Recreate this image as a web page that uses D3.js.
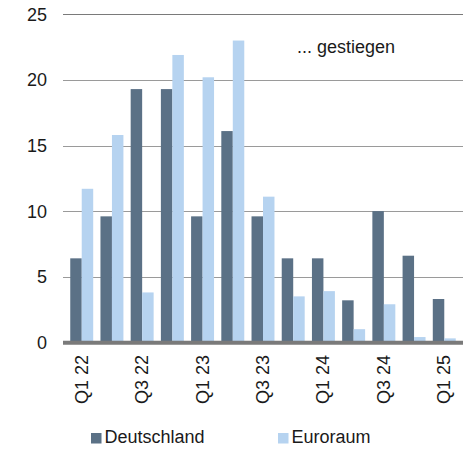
<!DOCTYPE html>
<html>
<head>
<meta charset="utf-8">
<script src="https://cdn.jsdelivr.net/npm/d3@7"></script>
<style>
  body { margin: 0; background: #fff; }
  text { font-family: "Liberation Sans", Arial, sans-serif; fill: #1a1a1a; }
</style>
</head>
<body>
<div id="chart"></div>
<script>
// quarters, two series (in %)
const quarters = ["Q1 22", "Q2 22", "Q3 22", "Q4 22", "Q1 23", "Q2 23", "Q3 23",
                  "Q4 23", "Q1 24", "Q2 24", "Q3 24", "Q4 24", "Q1 25"];
const deutschland = [6.4, 9.6, 19.3, 19.3, 9.6, 16.1, 9.6, 6.4, 6.4, 3.2, 10.0, 6.6, 3.3];
const euroraum = [11.7, 15.8, 3.8, 21.9, 20.2, 23.0, 11.1, 3.5, 3.9, 1.0, 2.9, 0.4, 0.3];
const seriesNames = ["Deutschland", "Euroraum"];
const yTicks = [0, 5, 10, 15, 20, 25];

const width = 473, height = 449;
const plotLeft = 63, plotRight = 463, plotTop = 14.3, plotBottom = 342.3;
const colors = ["#5b7186", "#b6d3f0"];

const svg = d3.select("#chart").append("svg")
    .attr("width", width)
    .attr("height", height);

const x = d3.scaleBand()
    .domain(quarters)
    .range([plotLeft, plotRight])
    .padding(0.24);

const xInner = d3.scaleBand()
    .domain(seriesNames)
    .range([0, x.bandwidth()]);

const y = d3.scaleLinear()
    .domain([0, 25])
    .range([plotBottom, plotTop]);

// gridlines
svg.append("g")
    .selectAll("line")
    .data(yTicks.filter(d => d > 0))
    .enter()
    .append("line")
    .attr("x1", plotLeft)
    .attr("x2", plotRight)
    .attr("y1", d => Math.round(y(d)) + 0.5)
    .attr("y2", d => Math.round(y(d)) + 0.5)
    .attr("stroke", d => d === 25 ? "#7a7a7a" : "#9a9a9a")
    .attr("stroke-width", 1);

// y tick labels
svg.append("g")
    .selectAll("text")
    .data(yTicks)
    .enter()
    .append("text")
    .attr("x", 47)
    .attr("y", d => y(d))
    .attr("dy", "0.36em")
    .attr("text-anchor", "end")
    .style("font-size", "18px")
    .text(d => d);

// bars
const rows = quarters.map((q, i) => ({ q, values: [deutschland[i], euroraum[i]] }));

const groups = svg.append("g")
    .selectAll("g")
    .data(rows)
    .enter()
    .append("g")
    .attr("transform", d => `translate(${x(d.q)},0)`);

groups.selectAll("rect")
    .data(d => d.values.map((v, k) => ({ name: seriesNames[k], v, k })))
    .enter()
    .append("rect")
    .attr("x", d => xInner(d.name))
    .attr("width", xInner.bandwidth())
    .attr("y", d => y(d.v))
    .attr("height", d => y(0) - y(d.v))
    .attr("fill", d => colors[d.k]);

// thick baseline
svg.append("line")
    .attr("x1", plotLeft)
    .attr("x2", plotRight)
    .attr("y1", plotBottom + 0.5)
    .attr("y2", plotBottom + 0.5)
    .attr("stroke", "#7a7a7a")
    .attr("stroke-width", 4);

// x labels, every other quarter, rotated
svg.append("g")
    .selectAll("text")
    .data(quarters.filter((q, i) => i % 2 === 0))
    .enter()
    .append("text")
    .attr("transform", d => `translate(${x(d) + x.bandwidth() / 2 + 6},355) rotate(-90)`)
    .attr("text-anchor", "end")
    .style("font-size", "18px")
    .text(d => d);

// annotation
svg.append("text")
    .attr("x", 297)
    .attr("y", 53)
    .style("font-size", "18px")
    .text("... gestiegen");

// legend
const legendX = [91, 278];
const legend = svg.append("g")
    .selectAll("g")
    .data(seriesNames)
    .enter()
    .append("g")
    .attr("transform", (d, i) => `translate(${legendX[i]},433)`);

legend.append("rect")
    .attr("width", 10.5)
    .attr("height", 10.5)
    .attr("fill", (d, i) => colors[i]);

legend.append("text")
    .attr("x", 13.5)
    .attr("y", 10)
    .style("font-size", "18px")
    .text(d => d);
</script>
</body>
</html>
